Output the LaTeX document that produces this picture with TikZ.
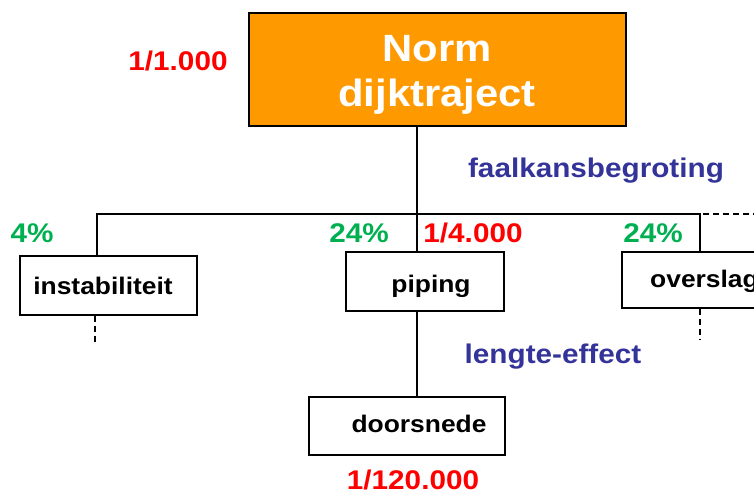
\documentclass[tikz,border=0pt]{standalone}
\usepackage{fontspec}
\setmainfont{Liberation Sans}[FakeStretch=1.1]
\definecolor{normorange}{RGB}{255,153,0}
\definecolor{pred}{RGB}{255,0,0}
\definecolor{pgreen}{RGB}{0,176,80}
\definecolor{pblue}{RGB}{51,51,153}
\tikzset{
  box/.style={draw=black, line width=1.2pt, rectangle, inner sep=0pt},
  lbl/.style={inner sep=0pt, anchor=base, font=\bfseries\fontsize{24}{28}\selectfont},
  redlbl/.style={inner sep=0pt, anchor=base, text=pred, font=\bfseries\fontsize{27}{32}\selectfont},
  greenlbl/.style={inner sep=0pt, anchor=base, text=pgreen, font=\bfseries\fontsize{27}{32}\selectfont},
  bluelbl/.style={inner sep=0pt, anchor=base, text=pblue, font=\bfseries\fontsize{27}{32}\selectfont},
  conn/.style={draw=black, line width=1.2pt},
  dconn/.style={draw=black, line width=1.2pt, dash pattern=on 6pt off 4pt},
}
\begin{document}
\begin{tikzpicture}[x=1pt,y=-1pt]
\useasboundingbox (0,0) rectangle (754,493);
% boxes
\node[box, fill=normorange, minimum width=377pt, minimum height=113pt] (norm) at (437.5,69.5) {};
\node[inner sep=0pt, align=center, text=white, font=\bfseries\fontsize{38}{45}\selectfont] (normt) at (437,75) {Norm\\dijktraject};
\node[box, minimum width=177pt, minimum height=59pt] (instab) at (108.5,285.5) {};
\node[box, minimum width=158pt, minimum height=59pt] (piping) at (425,281.5) {};
\node[box, minimum width=200pt, minimum height=56pt] (overslag) at (722,280) {};
\node[box, minimum width=196pt, minimum height=58pt] (doorsnede) at (407,426) {};
% coordinates
\coordinate (j) at (417,214);
\coordinate (jl) at (97,214);
\coordinate (jr) at (700,214);
\coordinate (jre) at (754,214);
\coordinate (dl) at (95,344);
\coordinate (dr) at (700,340);
% connectors
\draw[conn] (norm.south -| j) -- (j);
\draw[conn] (instab.north -| jl) -- (jl) -- (jr) -- (overslag.north -| jr);
\draw[conn] (j) -- (piping.north -| j);
\draw[conn] (piping.south -| j) -- (doorsnede.north -| j);
\draw[dconn] ([xshift=3pt]jr) -- (jre);
\draw[dconn] (instab.south -| dl) -- (dl);
\draw[dconn] (overslag.south -| dr) -- (dr);
% texts
\node[lbl] (instabt) at (103,294) {instabiliteit};
\node[lbl] (pipingt) at (431,292.5) {piping};
\node[lbl, anchor=base west] (overslagt) at (650,287) {overslag};
\node[lbl] (doorsnedet) at (419,432) {doorsnede};
\node[redlbl] (r1) at (178,70) {1/1.000};
\node[redlbl] (r2) at (473,242) {1/4.000};
\node[redlbl] (r3) at (413,489) {1/120.000};
\node[greenlbl] (g1) at (32,242) {4\%};
\node[greenlbl] (g2) at (359,242) {24\%};
\node[greenlbl] (g3) at (653,242) {24\%};
\node[bluelbl] (b1) at (596,177) {faalkansbegroting};
\node[bluelbl] (b2) at (553,363) {lengte-effect};
\end{tikzpicture}
\end{document}
